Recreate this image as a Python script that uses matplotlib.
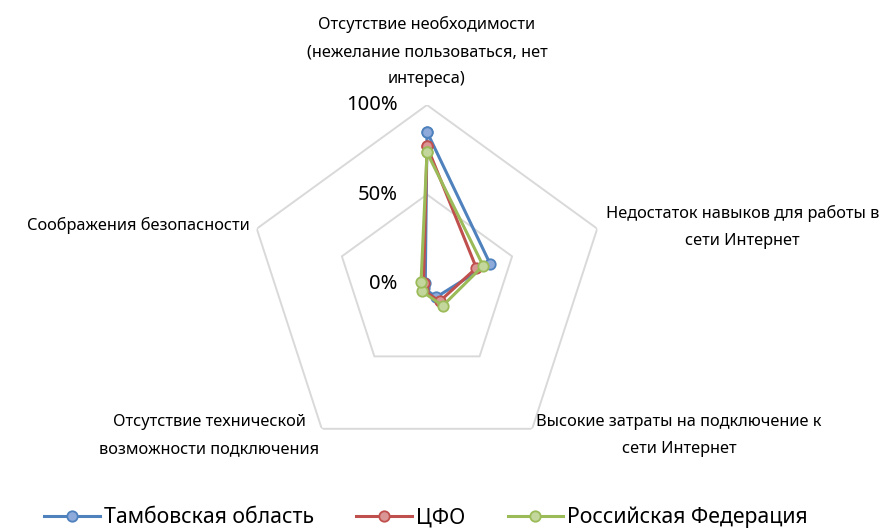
import numpy as np
import matplotlib
matplotlib.use('Agg')
import matplotlib.pyplot as plt

plt.rcParams['font.family'] = ['Noto Sans', 'DejaVu Sans']

categories = [
    'Отсутствие необходимости\n(нежелание пользоваться, нет\nинтереса)',
    'Недостаток навыков для работы в\nсети Интернет',
    'Высокие затраты на подключение к\nсети Интернет',
    'Отсутствие технической\nвозможности подключения',
    'Соображения безопасности',
]
series_names = ['Тамбовская область', 'ЦФО', 'Российская Федерация']
tambov = [0.85, 0.37, 0.09, 0.03, 0.01]
cfo = [0.77, 0.29, 0.12, 0.04, 0.02]
rf = [0.735, 0.33, 0.15, 0.05, 0.035]
ticks = [0.0, 0.5, 1.0]
tick_labels = ['0%', '50%', '100%']

line_colors = ['#4F81BD', '#C0504D', '#9BBB59']
face_colors = ['#8EAADB', '#DA9694', '#C3D69B']

fig = plt.figure(figsize=(8.93, 5.29), dpi=100)
ax = fig.add_axes([0.2777, 0.1248, 0.4009, 0.6767], projection='polar')
ax.set_theta_offset(np.pi / 2)
ax.set_theta_direction(-1)
ax.set_ylim(0, 1)

n = len(categories)
angles = np.arange(n) * 2 * np.pi / n
closed = np.append(angles, angles[0])

# pentagon grid
for r in ticks[1:]:
    ax.plot(closed, [r] * (n + 1), color='#D9D9D9', lw=1.4, zorder=1)
ax.grid(False)
ax.spines['polar'].set_visible(False)
ax.set_xticks([])
ax.set_yticks([])

for vals, name, lc, fc in zip([tambov, cfo, rf], series_names, line_colors, face_colors):
    v = np.append(vals, vals[0])
    ax.plot(closed, v, color=lc, lw=2.2, marker='o', markersize=7.5,
            markerfacecolor=fc, markeredgecolor=lc, markeredgewidth=1.3,
            label=name, zorder=3)

# radial tick labels
for r, lab in zip(ticks, tick_labels):
    ax.annotate(lab, xy=(0, r), xytext=(-21, 0), textcoords='offset points',
                ha='right', va='center', fontsize=14.5)

# category labels
label_pos = [
    ((0, 13), 'center', 'bottom'),
    ((6, 1.5), 'left', 'center'),
    ((3, -5), 'left', 'center'),
    ((-2, -5), 'right', 'center'),
    ((-5, 2), 'right', 'center'),
]
for th, (off, ha, va), lab in zip(angles, label_pos, categories):
    ax.annotate(lab, xy=(th, 1.0), xytext=off, textcoords='offset points',
                ha=ha, va=va, multialignment='center',
                fontsize=11.8, linespacing=1.9)

fig.legend(loc='lower center', bbox_to_anchor=(0.477, -0.035), ncol=3, frameon=False,
           fontsize=15.3, handlelength=2.6, columnspacing=2.0, handletextpad=0.2)

fig.savefig('out.png', dpi=100)
